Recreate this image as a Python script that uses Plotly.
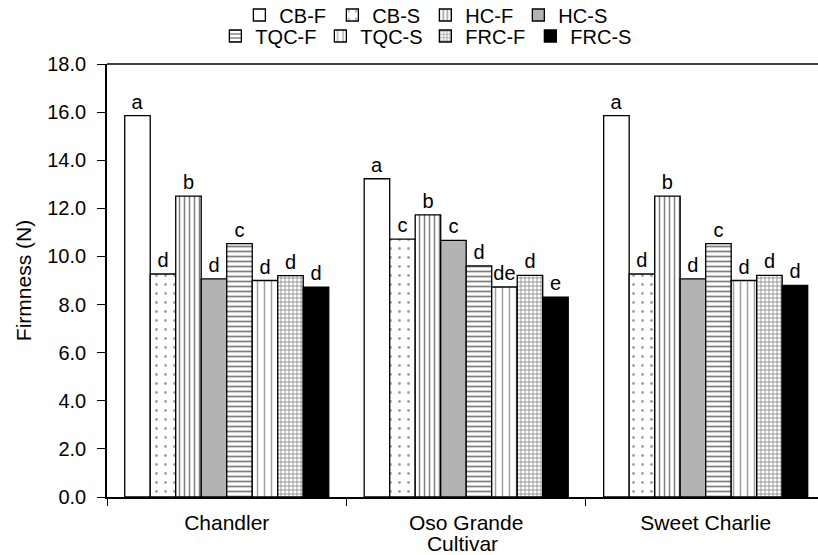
import plotly.graph_objects as go

cultivars = ["Chandler", "Oso Grande", "Sweet Charlie"]
series_names = ["CB-F", "CB-S", "HC-F", "HC-S", "TQC-F", "TQC-S", "FRC-F", "FRC-S"]

cb_f = [15.85, 13.23, 15.85]
cb_s = [9.27, 10.72, 9.27]
hc_f = [12.51, 11.73, 12.51]
hc_s = [9.07, 10.67, 9.07]
tqc_f = [10.53, 9.61, 10.53]
tqc_s = [9.00, 8.73, 9.00]
frc_f = [9.20, 9.21, 9.21]
frc_s = [8.72, 8.31, 8.80]

lt_cb_f = ["a", "a", "a"]
lt_cb_s = ["d", "c", "d"]
lt_hc_f = ["b", "b", "b"]
lt_hc_s = ["d", "c", "d"]
lt_tqc_f = ["c", "d", "c"]
lt_tqc_s = ["d", "de", "d"]
lt_frc_f = ["d", "d", "d"]
lt_frc_s = ["d", "e", "d"]

values = [cb_f, cb_s, hc_f, hc_s, tqc_f, tqc_s, frc_f, frc_s]
letters = [lt_cb_f, lt_cb_s, lt_hc_f, lt_hc_s, lt_tqc_f, lt_tqc_s, lt_frc_f, lt_frc_s]

styles = [
    dict(color="white", pattern=dict(shape="")),
    dict(color="white", pattern=dict(shape=".", fgcolor="#444", size=9, solidity=0.08)),
    dict(color="white", pattern=dict(shape="|", fgcolor="black", size=5, solidity=0.3)),
    dict(color="#b3b3b3", pattern=dict(shape="")),
    dict(color="white", pattern=dict(shape="-", fgcolor="black", size=5, solidity=0.35)),
    dict(color="white", pattern=dict(shape="|", fgcolor="#444", size=7, solidity=0.22)),
    dict(color="white", pattern=dict(shape="+", fgcolor="black", size=4, solidity=0.35)),
    dict(color="black", pattern=dict(shape="")),
]

FONT = "Liberation Sans, Arial, Helvetica, sans-serif"

fig = go.Figure()
for i, (name, vals, lts, st) in enumerate(zip(series_names, values, letters, styles)):
    fig.add_trace(go.Bar(
        x=cultivars, y=vals, name=name,
        text=lts, textposition="outside", constraintext="none", cliponaxis=False,
        textfont=dict(family=FONT, size=20, color="black"),
        marker=dict(color=st["color"], pattern=st["pattern"],
                    line=dict(color="black", width=1.3)),
        legend="legend" if i < 4 else "legend2",
    ))

fig.update_layout(
    width=818, height=555,
    margin=dict(l=107, r=0, t=64, b=58),
    paper_bgcolor="white", plot_bgcolor="white",
    barmode="group", bargap=0.148, bargroupgap=0,
    font=dict(family=FONT, size=20, color="black"),
    showlegend=True,
    legend=dict(orientation="h", xref="container", x=0.52, xanchor="center",
                yref="container", y=1 - 15 / 555, yanchor="middle",
                font=dict(family=FONT, size=20), entrywidth=48, itemwidth=30,
                bgcolor="rgba(0,0,0,0)", tracegroupgap=0),
    legend2=dict(orientation="h", xref="container", x=0.52, xanchor="center",
                 yref="container", y=1 - 36 / 555, yanchor="middle",
                 font=dict(family=FONT, size=20), entrywidth=60, itemwidth=30,
                 bgcolor="rgba(0,0,0,0)", tracegroupgap=0),
    xaxis=dict(
        range=[-0.5, 2.469], showline=True, linecolor="black", linewidth=1.6,
        mirror=False, ticks="outside", tickson="boundaries", ticklen=7,
        tickcolor="black", tickwidth=1.3, showgrid=False, automargin=False,
        tickfont=dict(family=FONT, size=21), ticklabelstandoff=6,
        title=dict(text="Cultivar", font=dict(family=FONT, size=21), standoff=1),
    ),
    yaxis=dict(
        range=[0, 18], tickvals=[0, 2, 4, 6, 8, 10, 12, 14, 16, 18],
        tickformat=".1f", showline=True, linecolor="black", linewidth=1.6,
        ticks="outside", ticklen=8, tickcolor="black", tickwidth=1.3,
        showgrid=False, zeroline=False, automargin=False,
        tickfont=dict(family=FONT, size=20), ticklabelstandoff=7,
        title=dict(text="Firmness (N)", font=dict(family=FONT, size=21), standoff=10),
    ),
    shapes=[
        dict(type="line", xref="paper", yref="paper", x0=1, x1=1, y0=0.004, y1=0.996,
             line=dict(color="white", width=3), layer="above"),
        dict(type="line", xref="paper", yref="paper", x0=0, x1=1, y0=1, y1=1,
             line=dict(color="black", width=1.6), layer="above"),
    ],
)

fig.write_html("out.html")
